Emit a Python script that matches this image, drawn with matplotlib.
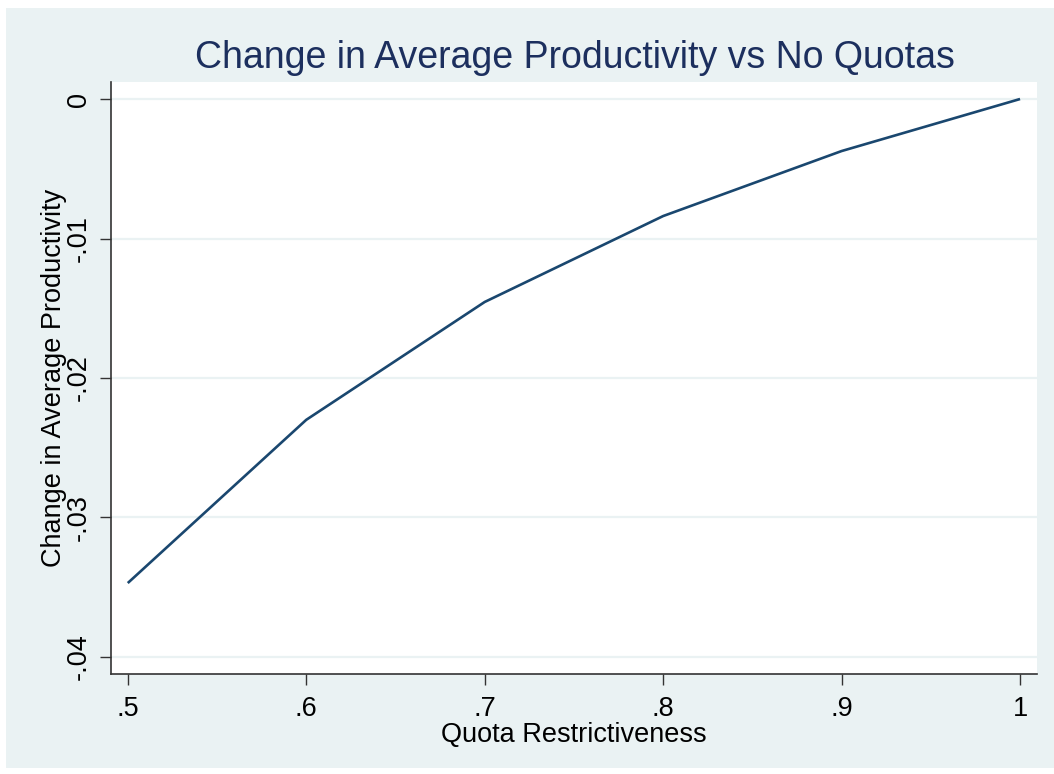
import matplotlib
matplotlib.use("Agg")
import matplotlib.pyplot as plt
from matplotlib.patches import Rectangle

# Quota restrictiveness and the resulting change in average productivity
quota = [0.5, 0.6, 0.7, 0.8, 0.9, 1.0]
change = [-0.0347, -0.0230, -0.01455, -0.00839, -0.00373, 0.0]

xticks = [0.5, 0.6, 0.7, 0.8, 0.9, 1.0]
xtick_labels = [".5", ".6", ".7", ".8", ".9", "1"]
yticks = [0.0, -0.01, -0.02, -0.03, -0.04]
ytick_labels = ["0", "-.01", "-.02", "-.03", "-.04"]

title = "Change in Average Productivity vs No Quotas"
xlabel = "Quota Restrictiveness"
ylabel = "Change in Average Productivity"

plt.rcParams["font.family"] = ["Liberation Sans", "DejaVu Sans"]

W, H = 1054, 774
fig = plt.figure(figsize=(W / 100, H / 100), dpi=100, facecolor="white")

# light graph region background
bg = "#eaf2f3"
fig.patches.append(Rectangle((6 / W, 1 - 768 / H), (W - 6) / W, (768 - 8) / H,
                             transform=fig.transFigure, facecolor=bg,
                             edgecolor="none", zorder=-5))

left, right, top, bottom = 111, 1037, 82, 674
ax = fig.add_axes([left / W, 1 - bottom / H, (right - left) / W, (bottom - top) / H])
ax.set_facecolor("white")

ax.plot(quota, change, color="#1a476f", linewidth=1.9, solid_capstyle="butt", zorder=3)

ax.set_xlim(0.4906, 1.0095)
ax.set_ylim(-0.04122, 0.00122)

ax.set_xticks(xticks)
ax.set_xticklabels(xtick_labels)
ax.set_yticks(yticks)
ax.set_yticklabels(ytick_labels, rotation=90, va="center")

ax.grid(axis="y", color=bg, linewidth=1.6, zorder=1)
ax.grid(axis="x", visible=False)

for s in ["top", "right"]:
    ax.spines[s].set_visible(False)
for s in ["left", "bottom"]:
    ax.spines[s].set_color("#333333")
    ax.spines[s].set_linewidth(1.2)

fs = 19.5
ax.tick_params(axis="both", direction="out", length=8, width=1.0, color="#333333",
               labelsize=fs, labelcolor="black")
ax.tick_params(axis="x", pad=8)
ax.tick_params(axis="y", pad=6)

ax.set_xlabel(xlabel, fontsize=fs, labelpad=0)
ax.set_ylabel(ylabel, fontsize=fs, labelpad=-1)

fig.text(575 / W, 1 - 58 / H, title, ha="center", va="center", fontsize=27,
         color="#1c2f5e")

fig.savefig("out.png", dpi=100, facecolor="white")
